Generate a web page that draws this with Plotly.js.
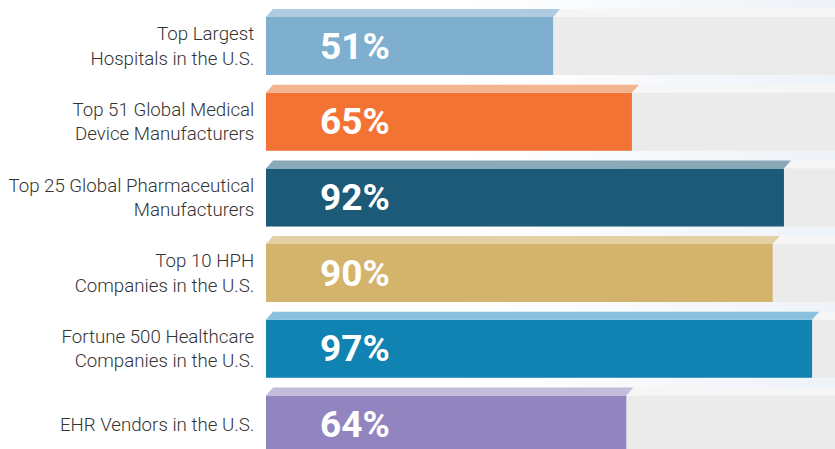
<!DOCTYPE html>
<html>
<head>
<meta charset="utf-8">
<script src="https://cdn.plot.ly/plotly-3.0.1.min.js"></script>
<style>
html,body{margin:0;padding:0;}
body{width:835px;height:449px;overflow:hidden;background:linear-gradient(90deg,#ffffff 0%,#ffffff 55%,#eef3f8 100%);}
#chart{width:835px;height:449px;}
</style>
</head>
<body>
<div id="chart"></div>
<script>
// Data
const categories = [
  "Top Largest<br>Hospitals in the U.S.",
  "Top 51 Global Medical<br>Device Manufacturers",
  "Top 25 Global Pharmaceutical<br>Manufacturers",
  "Top 10 HPH<br>Companies in the U.S.",
  "Fortune 500 Healthcare<br>Companies in the U.S.",
  "EHR Vendors in the U.S."
];
const values = [51, 65, 92, 90, 97, 64];
const valueLabels = ["51%", "65%", "92%", "90%", "97%", "64%"];
const frontColors = ["#7eafcf", "#f37334", "#1d5a77", "#d4b36c", "#1183b3", "#9284be"];
const topColors   = ["#aecbe0", "#f5b490", "#8aa9b8", "#e3d0a5", "#88c0dd", "#c3bcdc"];

// Styling constants
const xMax = 101.07;        // axis extent (percent)
const barWidth = 0.766;     // fraction of row
const depthX = 1.24;        // top-face skew (percent units)
const depthY = 0.106;       // top-face height (row units)
const pos = categories.map((_, i) => i);

const bgTrace = {
  type: 'bar', orientation: 'h',
  x: pos.map(() => xMax), y: pos, width: barWidth,
  marker: {color: '#ebebeb', line: {width: 0}},
  hoverinfo: 'skip', showlegend: false
};
const mainTrace = {
  type: 'bar', orientation: 'h',
  x: values, y: pos, width: barWidth,
  marker: {color: frontColors, line: {width: 0}},
  hoverinfo: 'skip', showlegend: false
};

const shapes = [];
pos.forEach((p, i) => {
  const yTop = p - barWidth / 2;
  const yUp = yTop - depthY;
  shapes.push({
    type: 'path', xref: 'x', yref: 'y', layer: 'below',
    path: `M 0,${yTop} L ${depthX},${yUp} L ${xMax + depthX},${yUp} L ${xMax},${yTop} Z`,
    fillcolor: '#f6f6f6', line: {width: 0}
  });
  const v = values[i];
  shapes.push({
    type: 'path', xref: 'x', yref: 'y', layer: 'above',
    path: `M 0,${yTop} L ${depthX},${yUp} L ${v + depthX},${yUp} L ${v},${yTop} Z`,
    fillcolor: topColors[i], line: {width: 0}
  });
});

const annotations = pos.map((p, i) => ({
  xref: 'x', yref: 'y', x: 9.2, y: p,
  xanchor: 'left', yanchor: 'middle',
  text: valueLabels[i], showarrow: false,
  font: {family: 'Roboto, sans-serif', size: 37, color: '#ffffff', weight: 'bold'}
}));

const layout = {
  width: 835, height: 449,
  margin: {l: 266, r: 0, t: 0, b: 0, pad: 0},
  paper_bgcolor: 'rgba(0,0,0,0)', plot_bgcolor: 'rgba(0,0,0,0)',
  barmode: 'overlay',
  xaxis: {range: [0, xMax], visible: false, fixedrange: true},
  yaxis: {
    range: [5.3237, -0.6077],
    tickvals: pos, ticktext: categories,
    showgrid: false, zeroline: false, showline: false,
    ticks: 'outside', ticklen: 7, tickcolor: 'rgba(0,0,0,0)',
    tickfont: {family: 'Roboto, sans-serif', size: 18.7, color: '#333333', weight: 300},
    fixedrange: true
  },
  shapes: shapes,
  annotations: annotations
};

Plotly.newPlot('chart', [bgTrace, mainTrace], layout, {displayModeBar: false, staticPlot: true});
</script>
</body>
</html>
